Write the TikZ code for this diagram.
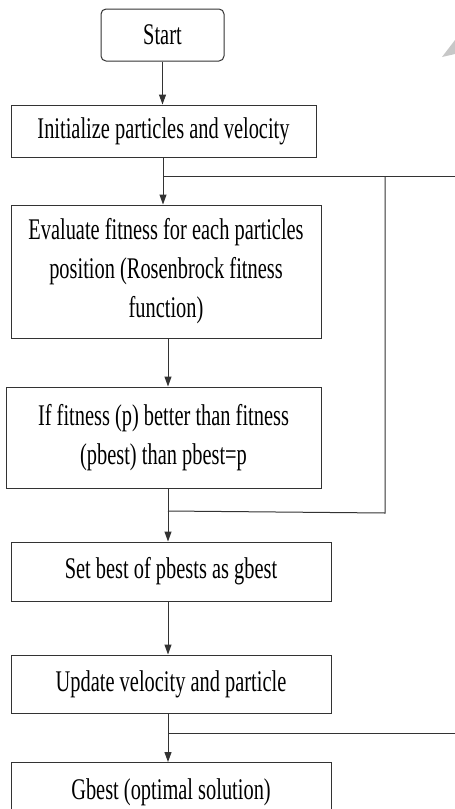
\documentclass[tikz,border=0pt]{standalone}
\usepackage{fontspec}
\setmainfont{Liberation Serif}[FakeStretch=0.68]
\usetikzlibrary{arrows.meta}
\begin{document}
\begin{tikzpicture}[x=1pt,y=-1pt,
  box/.style={draw=black!80,line width=1pt,fill=white,inner sep=0pt,align=center,font=\fontsize{30}{39}\selectfont},
  conn/.style={draw=black!80,line width=1pt},
  arr/.style={conn,-{Triangle[width=7pt,length=10pt]}}]
\useasboundingbox (0,0) rectangle (455,809);
\fill[black!22] (442,57) -- (455,40) -- (455,54) -- cycle;
\node[box,rounded corners=5pt,minimum width=123pt,minimum height=52pt] (start) at (162.5,35) {Start};
\node[box,minimum width=305pt,minimum height=52pt] (init) at (163.5,131) {Initialize particles and velocity};
\node[box,minimum width=310pt,minimum height=133pt] (eval) at (166,271.5) {Evaluate fitness for each particles\\position (Rosenbrock fitness\\function)};
\node[box,minimum width=315pt,minimum height=101pt] (pb) at (163.5,437.5) {If fitness (p) better than fitness\\(pbest) than pbest=p};
\node[box,minimum width=320pt,minimum height=59pt] (gb) at (171,571.5) {Set best of pbests as gbest};
\node[box,minimum width=320pt,minimum height=58pt] (upd) at (171,684) {Update velocity and particle};
\node[box,minimum width=320pt,minimum height=60pt,anchor=north] (res) at (171,762) {Gbest (optimal solution)};
\coordinate (j1) at (163,176);
\coordinate (r1) at (455,176);
\coordinate (c1) at (385,176);
\coordinate (c2) at (385,513);
\coordinate (j2) at (168,511);
\coordinate (j3) at (168,733);
\coordinate (r3) at (455,733);
\draw[arr] (start.south) -- (init.north -| start.south);
\draw[arr] (init.south -| j1) -- (eval.north -| j1);
\draw[conn] (j1) -- (r1);
\draw[conn] (c1) -- (c2) -- (j2);
\draw[arr] (eval.south -| j2) -- (pb.north -| j2);
\draw[arr] (pb.south -| j2) -- (gb.north -| j2);
\draw[arr] (gb.south -| j2) -- (upd.north -| j2);
\draw[arr] (upd.south -| j3) -- (res.north -| j3);
\draw[conn] (j3) -- (r3);
\end{tikzpicture}
\end{document}
